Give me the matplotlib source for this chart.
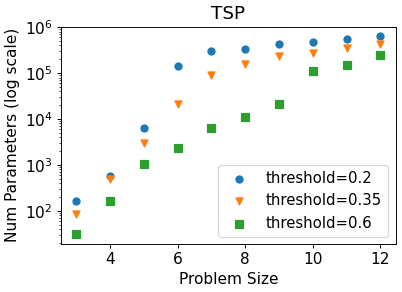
import matplotlib
matplotlib.use("Agg")
import matplotlib.pyplot as plt

sizes = [3, 4, 5, 6, 7, 8, 9, 10, 11, 12]
thr_02 = [160, 570, 6500, 140000, 297000, 339000, 421000, 465000, 541000, 628000]
thr_035 = [86, 506, 2970, 21000, 89000, 155000, 231000, 277000, 357000, 421000]
thr_06 = [31, 168, 1070, 2390, 6500, 11300, 21600, 113000, 152000, 243000]

plt.rcParams['font.size'] = 13
DPI = 85
fig, ax = plt.subplots(figsize=(402 / DPI, 292 / DPI), dpi=DPI)
ax.scatter(sizes, thr_02, marker='o', label='threshold=0.2')
ax.scatter(sizes, thr_035, marker='v', label='threshold=0.35')
ax.scatter(sizes, thr_06, marker='s', label='threshold=0.6')
ax.set_yscale('log')
ax.set_title('TSP')
ax.set_xlabel('Problem Size')
ax.set_ylabel('Num Parameters (log scale)')
ax.legend(loc='lower right', fontsize=12.6)
fig.subplots_adjust(left=0.152, right=0.984, top=0.909, bottom=0.164)
fig.savefig('out.png', dpi=DPI)
